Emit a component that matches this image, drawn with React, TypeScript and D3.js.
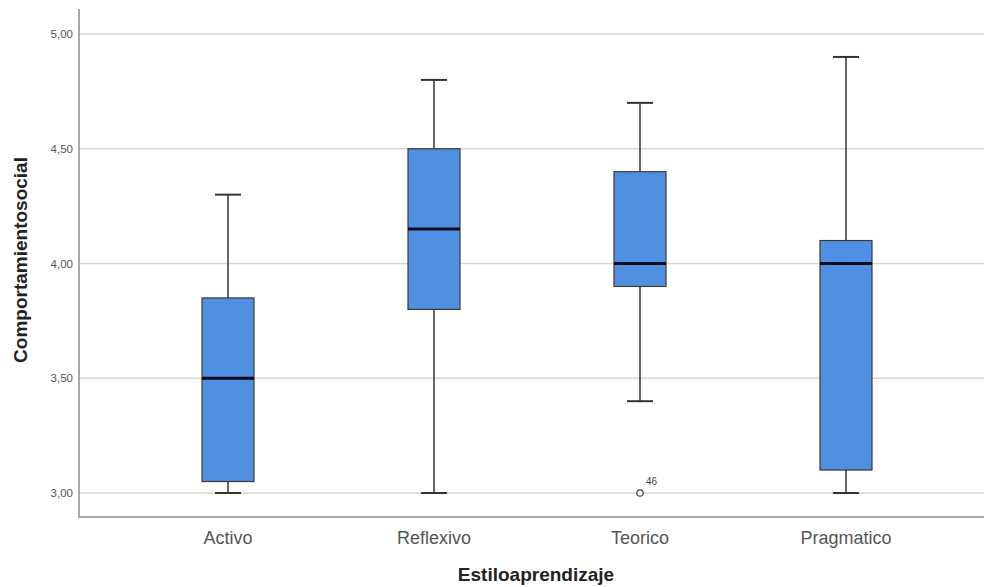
import React from "react";
import * as d3 from "d3";

const categories = ["Activo", "Reflexivo", "Teorico", "Pragmatico"];
const whiskerLow = [3.0, 3.0, 3.4, 3.0];
const q1 = [3.05, 3.8, 3.9, 3.1];
const median = [3.5, 4.15, 4.0, 4.0];
const q3 = [3.85, 4.5, 4.4, 4.1];
const whiskerHigh = [4.3, 4.8, 4.7, 4.9];
const outliers = [{ cat: "Teorico", value: 3.0, label: "46" }];
const yTicks = [3.0, 3.5, 4.0, 4.5, 5.0];

const W = 984;
const H = 587;

export default function App() {
  const x = d3.scalePoint<string>().domain(categories).range([79, 995]).padding(0.7233);
  const y = d3.scaleLinear().domain([3, 5]).range([493, 34]);
  const boxW = 52;
  const capW = 26;
  const fmt = (v: number) => v.toFixed(2).replace(".", ",");
  const font = "'Liberation Sans', Arial, sans-serif";

  return (
    <svg width={W} height={H} style={{ position: "absolute", left: 0, top: 0, background: "#fff" }} fontFamily={font}>
      {yTicks.map((t) => (
        <g key={t}>
          <line x1={80} x2={W} y1={y(t)} y2={y(t)} stroke="#d6d6d6" strokeWidth={1.5} />
          <text x={73} y={y(t)} dy="0.35em" textAnchor="end" fontSize={11.5} fill="#555">
            {fmt(t)}
          </text>
        </g>
      ))}
      <line x1={79} x2={79} y1={9} y2={518} stroke="#a8a8a8" strokeWidth={2} />
      <line x1={78} x2={W} y1={517} y2={517} stroke="#a8a8a8" strokeWidth={2} />
      {categories.map((c, i) => {
        const cx = x(c)!;
        return (
          <g key={c}>
            <line x1={cx} x2={cx} y1={y(whiskerHigh[i])} y2={y(q3[i])} stroke="#333" strokeWidth={1.5} />
            <line x1={cx} x2={cx} y1={y(q1[i])} y2={y(whiskerLow[i])} stroke="#333" strokeWidth={1.5} />
            <line x1={cx - capW / 2} x2={cx + capW / 2} y1={y(whiskerHigh[i])} y2={y(whiskerHigh[i])} stroke="#333" strokeWidth={2} />
            <line x1={cx - capW / 2} x2={cx + capW / 2} y1={y(whiskerLow[i])} y2={y(whiskerLow[i])} stroke="#333" strokeWidth={2} />
            <rect
              x={cx - boxW / 2}
              y={y(q3[i])}
              width={boxW}
              height={y(q1[i]) - y(q3[i])}
              fill="#5090e2"
              stroke="#3a3a3a"
              strokeWidth={1.2}
            />
            <line x1={cx - boxW / 2} x2={cx + boxW / 2} y1={y(median[i])} y2={y(median[i])} stroke="#0a0a1a" strokeWidth={3} />
            <text x={cx} y={544} textAnchor="middle" fontSize={18} fill="#555">
              {c}
            </text>
          </g>
        );
      })}
      {outliers.map((o, i) => (
        <g key={i}>
          <circle cx={x(o.cat)!} cy={y(o.value)} r={3.2} fill="#fff" stroke="#444" strokeWidth={1.2} />
          <text x={x(o.cat)! + 6} y={y(o.value) - 8} fontSize={10} fill="#444">
            {o.label}
          </text>
        </g>
      ))}
      <text x={536} y={581} textAnchor="middle" fontSize={19} fontWeight="bold" fill="#222">
        Estiloaprendizaje
      </text>
      <text
        transform={`translate(27, 260) rotate(-90)`}
        textAnchor="middle"
        fontSize={19}
        fontWeight="bold"
        fill="#222"
      >
        Comportamientosocial
      </text>
    </svg>
  );
}
